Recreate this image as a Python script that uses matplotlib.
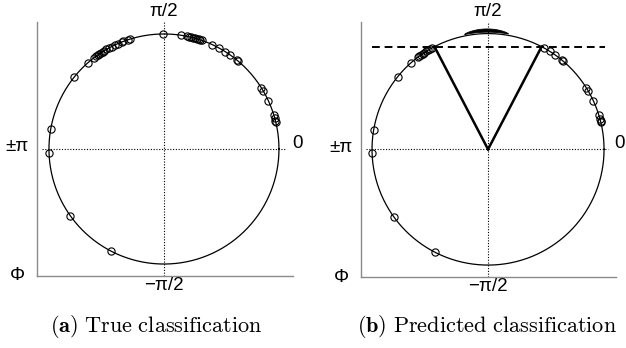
import numpy as np
import matplotlib
matplotlib.use("Agg")
import matplotlib.pyplot as plt

plt.rcParams['mathtext.fontset'] = 'cm'

# Phase angles (degrees) of the samples on the unit circle
angles_deg = [90.5, 81.7, 78.5, 77.5, 76.5, 75.5, 74.5, 73.5, 72.5, 71.5, 70.7,
              65.2, 61.3, 57.7, 55.0, 50.3, 49.8, 32.0, 30.3, 24.8, 17.0, 15.4,
              14.2, 13.6,
              107.2, 108.0, 110.8, 111.5, 113.5, 115.0, 117.0, 118.8, 120.0,
              121.3, 122.3, 123.3, 124.3, 125.3, 126.3, 127.4, 131.5, 141.2,
              170.2, 181.8, 215.5, 242.8]
# Predicted class sector (degrees) and threshold on sin(Phi)
sector_deg = [62.5, 117.5]
threshold = 0.885
# collapsed-class arc (degrees)
arc_deg = [80.0, 101.5]

captions = [r"$\mathbf{(a)}\ \mathrm{True\ classification}$",
            r"$\mathbf{(b)}\ \mathrm{Predicted\ classification}$"]
tick_labels = {"top": "π/2", "right": "0", "left": "±π", "bottom": "−π/2", "corner": "Φ"}

fig = plt.figure(figsize=(6.26, 3.48), dpi=100)
axes = [fig.add_axes([37/626, 72/348, 256/626, 254/348]),
        fig.add_axes([361/626, 71/348, 255/626, 255/348])]
limits = [((-1.104, 1.122), (-1.104, 1.104)), ((-1.095, 1.103), (-1.103, 1.100))]
zero_x = [1.157, 1.135]

th = np.linspace(0, 2*np.pi, 400)
ang = np.radians(np.array(angles_deg))
lab_font = dict(family=['Liberation Sans', 'DejaVu Sans'], fontsize=13.5)

for i, ax in enumerate(axes):
    xl, yl = limits[i]
    ax.set_xlim(*xl); ax.set_ylim(*yl)
    ax.set_xticks([]); ax.set_yticks([])
    for s in ['top', 'right']:
        ax.spines[s].set_visible(False)
    for s in ['left', 'bottom']:
        ax.spines[s].set_color('#8a8a8a')
        ax.spines[s].set_linewidth(1.0)
    ax.axhline(0, xmin=0.02, xmax=0.97, color='black', ls=(0, (1, 1.5)), lw=0.8)
    ax.axvline(0, color='black', ls=(0, (1, 1.5)), lw=0.8, clip_on=False)
    ax.plot(np.cos(th), np.sin(th), color='black', lw=0.9)

    if i == 0:
        a = ang
    else:
        lo, hi = np.radians(sector_deg)
        a = ang[(ang < lo) | (ang > hi)]
        # sector lines
        for sd in sector_deg:
            r = np.radians(sd)
            ax.plot([0, np.cos(r)], [0, np.sin(r)], color='black', lw=1.8)
        ax.plot([-1.0, 1.01], [threshold, threshold], color='black', lw=1.4,
                ls=(0, (4, 2.5)))
        t = np.linspace(0, 1, 60)
        aa = np.radians(arc_deg[0] + (arc_deg[1] - arc_deg[0]) * t)
        r_in = 1.012
        r_out = r_in + 0.028 * np.sin(np.pi * t) ** 0.6
        xs = np.concatenate([r_in*np.cos(aa), (r_out*np.cos(aa))[::-1]])
        ys = np.concatenate([r_in*np.sin(aa), (r_out*np.sin(aa))[::-1]])
        ax.fill(xs, ys, color='black', lw=0.6, clip_on=False)

    ax.plot(np.cos(a), np.sin(a), 'o', mfc='none', mec='black', ms=5.2, mew=0.8,
            clip_on=False)

    # labels
    ax.text(0, yl[1] + 0.015, tick_labels["top"], ha='center', va='bottom', **lab_font)
    ax.text(zero_x[i], 0.05, tick_labels["right"], ha='center', va='center', **lab_font)
    ax.text(xl[0] - 0.07, 0.02, tick_labels["left"], ha='right', va='center', **lab_font)
    ax.text(0, yl[0] - 0.01, tick_labels["bottom"], ha='center', va='top', **lab_font)
    ax.text(xl[0] - 0.17, yl[0] + 0.0, tick_labels["corner"], ha='center', va='center', **lab_font)

fig.text(156/626, 1 - 327/348, captions[0], ha='center', va='center', fontsize=16)
fig.text(487/626, 1 - 327/348, captions[1], ha='center', va='center', fontsize=16)

fig.savefig('out.png', dpi=100)
